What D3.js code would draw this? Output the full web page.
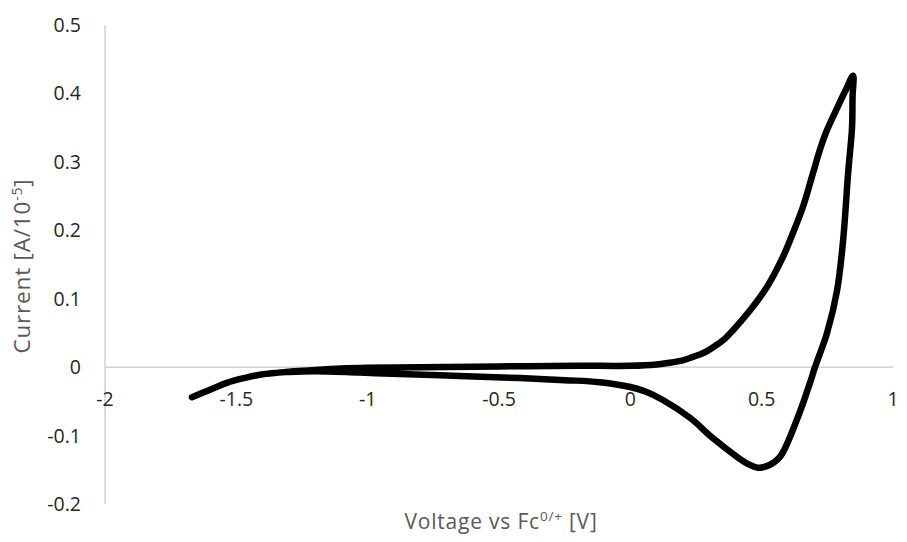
<!DOCTYPE html>
<html>
<head>
<meta charset="utf-8">
<script src="https://cdn.jsdelivr.net/npm/d3@7"></script>
<style>
  html, body { margin: 0; padding: 0; background: #ffffff; }
  svg { display: block; }
  text { font-family: "Open Sans", "DejaVu Sans", sans-serif; }
</style>
</head>
<body>
<svg id="chart" width="907" height="542"></svg>
<script>
// Cyclic voltammogram: forward sweep then return sweep, in scan order
const voltage = [
  -1.669, -1.60, -1.536, -1.47, -1.41, -1.34, -1.28, -1.20, -1.10, -1.00,
  -0.80, -0.50, -0.20, 0.00, 0.10, 0.14, 0.20, 0.239, 0.28, 0.315,
  0.355, 0.391, 0.456, 0.520, 0.581, 0.619, 0.657, 0.695, 0.722, 0.745,
  0.789, 0.820, 0.848,
  0.846, 0.844, 0.829, 0.810, 0.787, 0.749, 0.703, 0.684, 0.634, 0.570,
  0.530, 0.486, 0.445, 0.406, 0.315, 0.227, 0.124, 0.060, 0.00, -0.116,
  -0.25, -0.42, -0.65, -0.877, -1.03, -1.20, -1.30
];
const current = [
  -0.044, -0.033, -0.023, -0.016, -0.011, -0.008, -0.006, -0.004, -0.002, -0.001,
  0.000, 0.001, 0.002, 0.002, 0.004, 0.006, 0.010, 0.015, 0.021, 0.029,
  0.040, 0.054, 0.083, 0.117, 0.161, 0.196, 0.234, 0.283, 0.318, 0.343,
  0.380, 0.405, 0.426,
  0.395, 0.350, 0.283, 0.185, 0.112, 0.050, 0.000, -0.023, -0.077, -0.131,
  -0.143, -0.147, -0.141, -0.131, -0.104, -0.074, -0.048, -0.036, -0.029, -0.022,
  -0.019, -0.016, -0.013, -0.010, -0.008, -0.006, -0.007
];

const xTicks = [-2, -1.5, -1, -0.5, 0, 0.5, 1];
const yTicks = [-0.2, -0.1, 0, 0.1, 0.2, 0.3, 0.4, 0.5];

const svg = d3.select("#chart");

const x = d3.scaleLinear().domain([-2, 1]).range([105, 893]);
const y = d3.scaleLinear().domain([-0.2, 0.5]).range([504, 25]);

const axisColor = "#c8c8c8";
const tickColor = "#262626";
const titleColor = "#595959";
const fmt = d => String(d); // plain hyphen-minus labels

// Vertical axis line at x = -2
svg.append("line")
  .attr("x1", x(-2)).attr("x2", x(-2))
  .attr("y1", y(0.5)).attr("y2", y(-0.2))
  .attr("stroke", axisColor).attr("stroke-width", 1.3);

// Horizontal axis line at current = 0
svg.append("line")
  .attr("x1", x(-2)).attr("x2", x(1))
  .attr("y1", y(0)).attr("y2", y(0))
  .attr("stroke", axisColor).attr("stroke-width", 1.3);

// Y tick labels
svg.append("g").selectAll("text")
  .data(yTicks)
  .join("text")
  .attr("x", 81)
  .attr("y", d => y(d) + 7)
  .attr("text-anchor", "end")
  .attr("font-size", 19.5)
  .attr("fill", tickColor)
  .text(fmt);

// X tick labels, just under the zero line
svg.append("g").selectAll("text")
  .data(xTicks)
  .join("text")
  .attr("x", d => x(d))
  .attr("y", 406)
  .attr("text-anchor", "middle")
  .attr("font-size", 19.5)
  .attr("fill", tickColor)
  .text(fmt);

// Current trace
const line = d3.line()
  .x((d, i) => x(voltage[i]))
  .y((d, i) => y(current[i]))
  .curve(d3.curveCatmullRom.alpha(0.5));

svg.append("path")
  .datum(voltage)
  .attr("d", line)
  .attr("fill", "none")
  .attr("stroke", "#000000")
  .attr("stroke-width", 6.5)
  .attr("stroke-linecap", "round")
  .attr("stroke-linejoin", "round");

// Axis titles
const xTitle = svg.append("text")
  .attr("x", 501)
  .attr("y", 529)
  .attr("text-anchor", "middle")
  .attr("font-size", 21)
  .attr("letter-spacing", 0.8)
  .attr("fill", titleColor);
xTitle.append("tspan").text("Voltage vs Fc");
xTitle.append("tspan").attr("dy", -8).attr("font-size", 13.5).text("0/+");
xTitle.append("tspan").attr("dy", 8).text(" [V]");

const yTitle = svg.append("text")
  .attr("transform", "translate(30,266) rotate(-90)")
  .attr("text-anchor", "middle")
  .attr("font-size", 22.5)
  .attr("letter-spacing", 0.8)
  .attr("fill", titleColor);
yTitle.append("tspan").text("Current [A/10");
yTitle.append("tspan").attr("dy", -8).attr("font-size", 14).text("-5");
yTitle.append("tspan").attr("dy", 8).text("]");
</script>
</body>
</html>
